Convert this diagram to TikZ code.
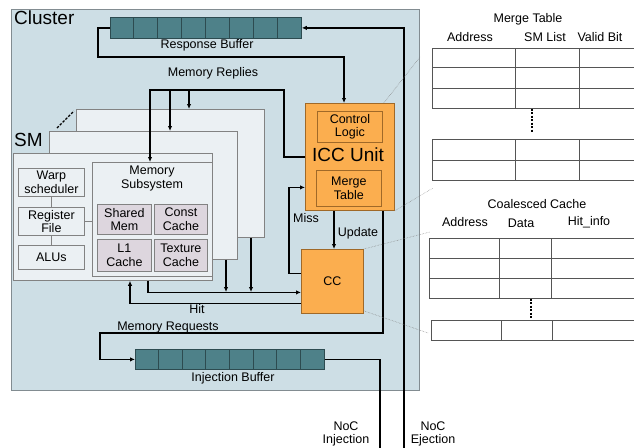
\documentclass[tikz,border=0pt]{standalone}
\usepackage{fontspec}
\setmainfont{Liberation Sans}
\usetikzlibrary{arrows.meta}
\definecolor{clusterbg}{RGB}{205,222,229}
\definecolor{clusterbd}{RGB}{130,140,145}
\definecolor{smfill}{RGB}{235,240,243}
\definecolor{smbd}{RGB}{130,130,130}
\definecolor{memfill}{RGB}{221,214,222}
\definecolor{tealc}{RGB}{78,129,137}
\definecolor{tealbd}{RGB}{45,75,80}
\definecolor{orangec}{RGB}{251,174,79}
\definecolor{orangebd}{RGB}{160,105,40}
\definecolor{tabbd}{RGB}{85,85,85}
\tikzset{
  rect/.style={rectangle, inner sep=0pt, anchor=north west},
  clusterbox/.style={rect, fill=clusterbg, draw=clusterbd, line width=0.8pt},
  smbox/.style={rect, fill=smfill, draw=smbd, line width=0.8pt},
  unitbox/.style={rect, fill=smfill, draw=smbd, line width=0.8pt, align=center},
  membox/.style={rect, fill=memfill, draw=smbd, line width=0.8pt, align=center},
  bufbox/.style={rect, fill=tealc, draw=tealbd, line width=0.8pt},
  bufline/.style={draw=tealbd, line width=0.8pt},
  iccbox/.style={rect, fill=orangec, draw=orangebd, line width=0.8pt, align=center},
  tabbox/.style={rect, draw=tabbd, line width=0.7pt},
  tabline/.style={draw=tabbd, line width=0.7pt},
  wire/.style={line width=1.5pt, black},
  arr/.style={-{Latex[length=5pt,width=4.5pt]}},
  thinline/.style={line width=0.8pt, smbd},
  zoomline/.style={densely dotted, gray, line width=0.5pt},
  dotsep/.style={line width=1.3pt, black, dash pattern=on 2pt off 1.5pt},
  lbl/.style={inner sep=0pt, align=center},
}
\begin{document}
\begin{tikzpicture}[x=1pt,y=-1pt,font=\fontsize{12.5}{13.5}\selectfont]
\useasboundingbox (0,0) rectangle (634,447);

% cluster
\node[clusterbox, minimum width=408pt, minimum height=381pt] (cluster) at (11,9) {};
\node[lbl, anchor=base west, font=\fontsize{19}{20}\selectfont] (clusterlbl) at (14,24) {Cluster};

% response buffer
\node[bufbox, minimum width=191pt, minimum height=21pt] (rb) at (110,17) {};
\foreach \i in {1,...,7}
  \draw[bufline] ([xshift=\i*23.875pt]rb.north west) -- ([xshift=\i*23.875pt]rb.south west);
\node[lbl] (rblbl) at (207,45) {Response Buffer};

% SMs
\node[smbox, minimum width=188pt, minimum height=128pt] (sm3) at (76,109) {};
\node[smbox, minimum width=188pt, minimum height=128pt] (sm2) at (49,131) {};
\node[smbox, minimum width=199pt, minimum height=127pt] (sm1) at (13,153) {};
\coordinate (dA) at (57,128);
\coordinate (dB) at (74,111);
\draw[line width=1.2pt, dash pattern=on 2.5pt off 1.5pt] (dA) -- (dB);
\node[lbl, anchor=base west, font=\fontsize{19}{20}\selectfont] (smlbl) at (14,146) {SM};

\node[unitbox, minimum width=66pt, minimum height=28pt] (warp) at (18,168) {Warp\\scheduler};
\node[unitbox, minimum width=66pt, minimum height=28pt] (reg) at (18,207) {Register\\File};
\node[unitbox, minimum width=66pt, minimum height=24pt] (alu) at (18,245) {ALUs};
\node[unitbox, minimum width=120pt, minimum height=114pt] (mem) at (92,162) {};
\node[lbl] (memlbl) at (152,178.5) {Memory\\Subsystem};
\node[membox, minimum width=54pt, minimum height=30pt] (shm) at (97,204) {Shared\\Mem};
\node[membox, minimum width=53pt, minimum height=30pt] (cst) at (154,204) {Const\\Cache};
\node[membox, minimum width=54pt, minimum height=32pt] (l1) at (97,239) {L1\\Cache};
\node[membox, minimum width=53pt, minimum height=32pt] (tex) at (154,239) {Texture\\Cache};
\draw[thinline] (warp) -- (reg);
\draw[thinline] (reg) -- (alu);
\draw[thinline] (reg.east) -- (reg.east -| mem.west);

% ICC unit and CC
\node[iccbox, minimum width=89pt, minimum height=107pt] (icc) at (305,103) {};
\node[iccbox, minimum width=65pt, minimum height=31pt] (ctrl) at (317,111) {Control\\Logic};
\node[iccbox, minimum width=65pt, minimum height=36pt] (mtab) at (316,170) {Merge\\Table};
\node[lbl, anchor=base, font=\fontsize{19}{20}\selectfont] (icclbl) at (348,161) {ICC Unit};
\node[iccbox, minimum width=62pt, minimum height=64pt] (cc) at (301,249) {CC};

% injection buffer
\node[bufbox, minimum width=189pt, minimum height=20pt] (ib) at (135,349) {};
\foreach \i in {1,...,7}
  \draw[bufline] ([xshift=\i*23.625pt]ib.north west) -- ([xshift=\i*23.625pt]ib.south west);
\node[lbl] (iblbl) at (233,378) {Injection Buffer};

% wires
\coordinate (ejb) at (404,450);
\coordinate (injb) at (380,450);
\draw[wire, arr] (ejb) |- (rb.east);
\draw[wire, arr] (rb.west) -| (98,57) -| ([xshift=39pt]icc.north west);

\node[lbl] (mrlbl) at (213,73) {Memory Replies};
\draw[wire, arr] (icc.west) -| (284,90) -| ([xshift=58pt]mem.north west);
\coordinate (mr2) at (170,90);
\coordinate (mr3) at (189,90);
\draw[wire, arr] (mr2) -- ([xshift=121pt]sm2.north west);
\draw[wire, arr] (mr3) -- ([xshift=113pt]sm3.north west);

\draw[wire, arr] ([xshift=135pt]sm1.south west) |- ([yshift=-11pt]cc.west);
\coordinate (rq2) at (226,292);
\coordinate (rq3) at (251,292);
\draw[wire, arr] ([xshift=177pt]sm2.south west) -- (rq2);
\draw[wire, arr] ([xshift=175pt]sm3.south west) -- (rq3);

\draw[wire, arr] ([yshift=-22pt]cc.west) -| ([xshift=117pt]sm1.south west);
\node[lbl] (hitlbl) at (197,309) {Hit};

\draw[wire, arr] ([yshift=8pt]cc.west) -- ++(-12,0) |- ([yshift=-30.5pt]icc.west);
\node[lbl] (misslbl) at (306,218) {Miss};

\draw[wire, arr] ([xshift=29pt]icc.south west) -- ([xshift=29pt]icc.south west |- cc.north);
\node[lbl] (updlbl) at (358,233) {Update};

\draw[wire, arr] ([xshift=78pt]icc.south west) |- (100,333) |- (ib.west);
\node[lbl] (mreqlbl) at (168,327) {Memory Requests};

\draw[wire] (ib.east) -| (injb);

\node[lbl] (noci) at (346,434) {NoC\\Injection};
\node[lbl] (noce) at (433,434) {NoC\\Ejection};

% merge table
\node[lbl] (mtitle) at (528,19) {Merge Table};
\node[lbl] (mh1) at (470,37) {Address};
\node[lbl] (mh2) at (545,37) {SM List};
\node[lbl] (mh3) at (600,37) {Valid Bit};
\node[tabbox, minimum width=260pt, minimum height=60pt] (mt1) at (432,48) {};
\node[tabbox, minimum width=260pt, minimum height=41pt] (mt2) at (432,139) {};
\foreach \t in {mt1,mt2}{
  \draw[tabline] ([xshift=83pt]\t.north west) -- ([xshift=83pt]\t.south west);
  \draw[tabline] ([xshift=147pt]\t.north west) -- ([xshift=147pt]\t.south west);
}
\draw[tabline] ([yshift=-19pt]mt1.north west) -- ([yshift=-19pt]mt1.north east);
\draw[tabline] ([yshift=-40pt]mt1.north west) -- ([yshift=-40pt]mt1.north east);
\draw[tabline] ([yshift=-21pt]mt2.north west) -- ([yshift=-21pt]mt2.north east);
\draw[dotsep] ([xshift=100pt]mt1.south west) -- ([xshift=100pt,yshift=6pt]mt2.north west);

% coalesced cache table
\node[lbl] (ctitle) at (537,204) {Coalesced Cache};
\node[lbl] (ch1) at (465,222) {Address};
\node[lbl] (ch2) at (521,223) {Data};
\node[lbl] (ch3) at (589,222) {Hit\_info};
\node[tabbox, minimum width=260pt, minimum height=60pt] (ct1) at (429,238) {};
\node[tabbox, minimum width=260pt, minimum height=20pt] (ct2) at (431,320) {};
\draw[tabline] ([xshift=70pt]ct1.north west) -- ([xshift=70pt]ct1.south west);
\draw[tabline] ([xshift=122pt]ct1.north west) -- ([xshift=122pt]ct1.south west);
\draw[tabline] ([xshift=70pt]ct2.north west) -- ([xshift=70pt]ct2.south west);
\draw[tabline] ([xshift=121pt]ct2.north west) -- ([xshift=121pt]ct2.south west);
\draw[tabline] ([yshift=-20pt]ct1.north west) -- ([yshift=-20pt]ct1.north east);
\draw[tabline] ([yshift=-40pt]ct1.north west) -- ([yshift=-40pt]ct1.north east);
\draw[dotsep] ([xshift=102pt]ct1.south west) -- ([xshift=100pt,yshift=2pt]ct2.north west);

% zoom lines
\coordinate (z1) at (420,57);
\coordinate (z2) at (433,188);
\coordinate (z3) at (430,232);
\coordinate (z4) at (428,333);
\draw[zoomline] ([xshift=-11pt]icc.north east) -- (z1);
\draw[zoomline] (icc.south east) -- (z2);
\draw[zoomline] (cc.north east) -- (z3);
\draw[zoomline] ([yshift=3pt]cc.south east) -- (z4);
\end{tikzpicture}
\end{document}
